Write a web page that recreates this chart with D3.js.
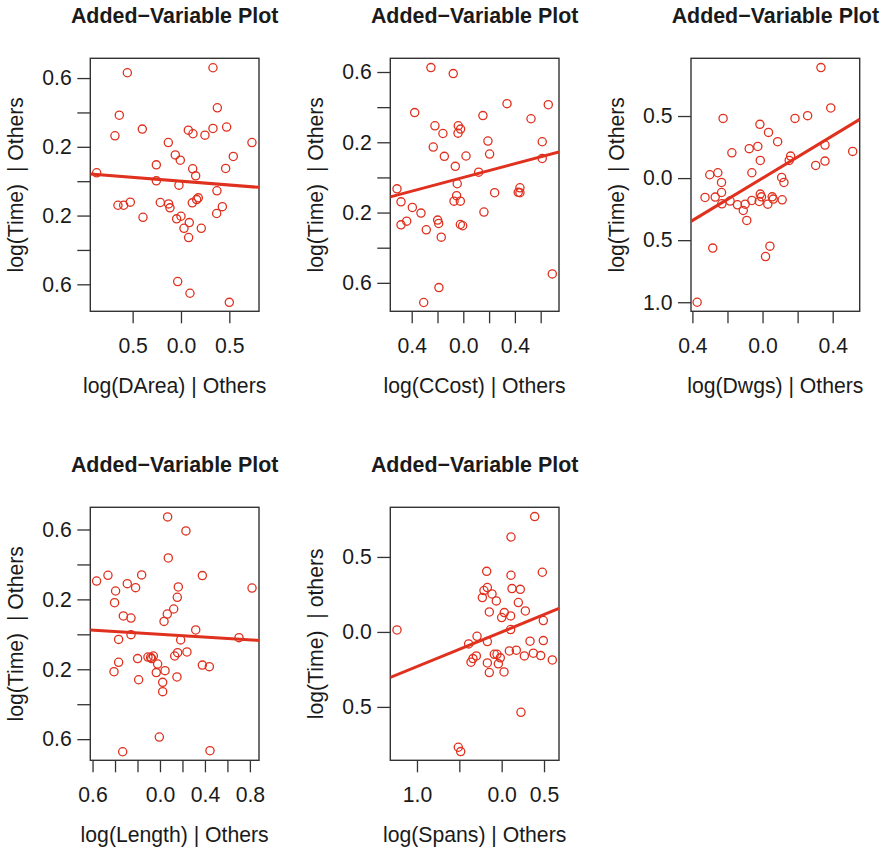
<!DOCTYPE html>
<html>
<head>
<meta charset="utf-8">
<script src="https://cdn.jsdelivr.net/npm/d3@7"></script>
<style>
  body { margin: 0; background: #fff; }
  svg { display: block; }
  text { font-family: "Liberation Sans", Arial, Helvetica, sans-serif; fill: #1a1a1a; }
</style>
</head>
<body>
<svg id="chart" width="884" height="848"></svg>
<script>
// ---------------- DATA ----------------
const titleText = "Added\u2212Variable Plot";

const xLabels = ["log(DArea) | Others", "log(CCost) | Others", "log(Dwgs) | Others", "log(Length) | Others", "log(Spans) | Others"];
const yLabels = ["log(Time)  | Others", "log(Time)  | Others", "log(Time)  | Others", "log(Time)  | Others", "log(Time)  | others"];

// Panel 1: DArea
const p1x = [-0.555,0.331,0.376,-0.638,-0.400,-0.683,0.076,0.124,0.248,0.331,0.472,0.734,-0.131,-0.059,-0.007,0.541,-0.255,0.121,0.462,-0.872,0.152,-0.255,-0.021,0.372,-0.652,-0.593,-0.524,-0.214,-0.128,-0.114,0.117,0.162,0.179,0.428,0.369,-0.393,-0.045,0.000,0.086,0.031,0.210,0.079,-0.034,0.093,0.500];
const p1y = [0.631,0.660,0.427,0.384,0.303,0.264,0.297,0.276,0.268,0.307,0.315,0.225,0.225,0.153,0.122,0.144,0.095,0.072,0.074,0.049,0.031,0.002,-0.023,-0.056,-0.140,-0.140,-0.122,-0.124,-0.132,-0.155,-0.126,-0.107,-0.097,-0.148,-0.188,-0.210,-0.219,-0.204,-0.241,-0.274,-0.274,-0.328,-0.584,-0.652,-0.705];

// Panel 2: CCost
const p2x = [-0.251,-0.078,0.339,0.659,-0.377,0.152,0.525,-0.220,-0.039,-0.021,-0.041,-0.158,0.191,0.612,-0.233,0.204,-0.147,0.021,0.612,-0.062,0.119,-0.514,-0.047,-0.483,-0.052,-0.072,-0.023,0.243,0.439,0.426,0.439,-0.395,-0.328,0.160,-0.483,-0.439,-0.199,-0.191,-0.287,-0.023,-0.005,-0.171,0.690,-0.189,-0.307];
const p2y = [0.625,0.591,0.420,0.414,0.369,0.352,0.334,0.294,0.294,0.275,0.252,0.250,0.207,0.203,0.173,0.133,0.120,0.122,0.108,0.063,0.030,-0.065,-0.036,-0.139,-0.104,-0.135,-0.135,-0.087,-0.059,-0.085,-0.087,-0.171,-0.203,-0.197,-0.270,-0.249,-0.243,-0.262,-0.298,-0.268,-0.275,-0.340,-0.549,-0.627,-0.712];

// Panel 3: Dwgs
const p3x = [0.333,0.389,0.257,0.185,-0.225,-0.015,0.034,0.086,0.356,0.514,-0.175,-0.076,-0.027,-0.013,0.160,0.152,0.356,0.303,-0.301,-0.255,-0.061,-0.234,0.109,0.122,-0.234,-0.328,-0.270,-0.232,-0.185,-0.143,-0.099,-0.110,-0.061,-0.013,-0.006,-0.019,0.030,0.055,0.061,0.112,-0.090,-0.284,0.042,0.017,-0.373];
const p3y = [0.890,0.565,0.503,0.481,0.481,0.433,0.368,0.293,0.266,0.215,0.204,0.237,0.255,0.142,0.177,0.142,0.137,0.102,0.027,0.043,0.043,-0.035,0.005,-0.035,-0.116,-0.156,-0.153,-0.207,-0.185,-0.215,-0.210,-0.261,-0.180,-0.129,-0.151,-0.188,-0.210,-0.151,-0.169,-0.175,-0.341,-0.564,-0.548,-0.632,-1.000];

// Panel 4: Length
const p4x = [0.068,0.231,0.074,-0.463,-0.163,0.377,-0.564,-0.291,-0.217,-0.395,0.163,0.819,0.154,-0.404,0.122,0.065,-0.326,-0.258,0.036,0.318,-0.258,-0.368,0.184,0.703,0.157,0.240,0.131,-0.199,-0.107,-0.083,-0.059,-0.074,-0.021,-0.368,-0.409,-0.033,0.045,0.377,0.439,-0.190,0.151,0.024,0.024,-0.006,-0.332,0.445];
const p4y = [0.672,0.592,0.437,0.338,0.340,0.336,0.305,0.290,0.267,0.248,0.271,0.265,0.212,0.181,0.145,0.116,0.105,0.093,0.074,0.025,-0.002,-0.029,-0.032,-0.019,-0.105,-0.101,-0.124,-0.139,-0.130,-0.132,-0.124,-0.139,-0.170,-0.160,-0.214,-0.219,-0.208,-0.176,-0.185,-0.260,-0.244,-0.275,-0.328,-0.588,-0.672,-0.666];

// Panel 5: Spans
const p5x = [0.390,0.110,-0.177,0.480,0.110,-0.169,-0.209,0.122,0.220,-0.114,-0.228,-0.063,0.197,-0.146,0.031,0.000,0.106,0.280,0.492,-1.236,0.106,-0.291,-0.390,-0.169,0.335,0.492,0.091,0.173,-0.299,-0.339,-0.362,-0.087,-0.055,-0.016,-0.039,-0.169,0.268,0.374,0.461,0.598,-0.146,0.028,0.228,-0.512,-0.484];
const p5y = [0.769,0.633,0.404,0.398,0.378,0.296,0.276,0.289,0.284,0.253,0.229,0.207,0.196,0.133,0.129,0.096,0.107,0.140,0.076,0.013,0.016,-0.029,-0.080,-0.064,-0.062,-0.058,-0.127,-0.122,-0.160,-0.178,-0.202,-0.149,-0.149,-0.173,-0.213,-0.207,-0.160,-0.142,-0.158,-0.187,-0.271,-0.267,-0.536,-0.769,-0.798];

// Fitted lines (slope, intercept)
const slopes = [-0.0445, 0.196, 0.854, -0.0394, 0.231];
const intercepts = [0.0, 0.0, 0.0, 0.0, 0.0];

// Axis domains
const xDomains = [[-0.938, 0.807], [-0.566, 0.742], [-0.408, 0.554], [-0.620, 0.881], [-1.315, 0.677]];
const yDomains = [[-0.757, 0.715], [-0.762, 0.678], [-1.073, 0.965], [-0.721, 0.727], [-0.856, 0.831]];

// Tick values and the labels as printed (R drops minus signs in this figure)
const xTickVals = [[-0.5, 0, 0.5], [-0.4, -0.2, 0, 0.2, 0.4, 0.6], [-0.4, -0.2, 0, 0.2, 0.4], [-0.6, -0.4, -0.2, 0, 0.2, 0.4, 0.6, 0.8], [-1, -0.5, 0, 0.5]];
const xTickText = [["0.5", "0.0", "0.5"], ["0.4", "", "0.0", "", "0.4", ""], ["0.4", "", "0.0", "", "0.4"], ["0.6", "", "", "0.0", "", "0.4", "", "0.8"], ["1.0", "", "0.0", "0.5"]];
const yTickVals = [[0.6, 0.4, 0.2, 0, -0.2, -0.4, -0.6], [0.6, 0.4, 0.2, 0, -0.2, -0.4, -0.6], [0.5, 0, -0.5, -1.0], [0.6, 0.4, 0.2, 0, -0.2, -0.4, -0.6], [0.5, 0, -0.5]];
const yTickText = [["0.6", "", "0.2", "", "0.2", "", "0.6"], ["0.6", "", "0.2", "", "0.2", "", "0.6"], ["0.5", "0.0", "0.5", "1.0"], ["0.6", "", "0.2", "", "0.2", "", "0.6"], ["0.5", "0.0", "0.5"]];

// ---------------- DRAW ----------------
const xs = [p1x, p2x, p3x, p4x, p5x];
const ys = [p1y, p2y, p3y, p4y, p5y];

const RED = "#e0301e";
const FS = 21.2;
const panelW = 168.7, panelH = 253;
const lefts = [90.3, 390.3, 691, 90.3, 390.3];
const tops = [58.3, 58.3, 58.3, 507.3, 507.3];

const svg = d3.select("#chart");

for (let i = 0; i < 5; i++) {
  const L = lefts[i], T = tops[i];
  const x = d3.scaleLinear().domain(xDomains[i]).range([L, L + panelW]);
  const y = d3.scaleLinear().domain(yDomains[i]).range([T + panelH, T]);
  const g = svg.append("g");

  const clipId = "clip" + i;
  svg.append("clipPath").attr("id", clipId)
    .append("rect").attr("x", L).attr("y", T).attr("width", panelW).attr("height", panelH);

  // axes
  const xAxis = d3.axisBottom(x).tickValues(xTickVals[i])
    .tickFormat((d, k) => xTickText[i][k]).tickSize(12).tickPadding(15);
  const gx = g.append("g").attr("transform", `translate(0,${T + panelH})`).call(xAxis);
  gx.select(".domain").remove();
  gx.selectAll("line").attr("stroke", "#333").attr("stroke-width", 1.3);
  gx.selectAll("text").attr("font-size", FS).attr("fill", "#1a1a1a").attr("dy", "0.71em");

  const yAxis = d3.axisLeft(y).tickValues(yTickVals[i])
    .tickFormat((d, k) => yTickText[i][k]).tickSize(13).tickPadding(5.5);
  const gy = g.append("g").attr("transform", `translate(${L},0)`).call(yAxis);
  gy.select(".domain").remove();
  gy.selectAll("line").attr("stroke", "#333").attr("stroke-width", 1.3);
  gy.selectAll("text").attr("font-size", FS).attr("fill", "#1a1a1a");

  // box
  g.append("rect").attr("x", L).attr("y", T).attr("width", panelW).attr("height", panelH)
    .attr("fill", "none").attr("stroke", "#333").attr("stroke-width", 1.4);

  // points
  g.append("g").attr("clip-path", `url(#${clipId})`)
    .selectAll("circle").data(d3.range(xs[i].length)).join("circle")
    .attr("cx", k => x(xs[i][k])).attr("cy", k => y(ys[i][k])).attr("r", 4.1)
    .attr("fill", "none").attr("stroke", RED).attr("stroke-width", 1.3);

  // fitted line
  const [x0, x1] = xDomains[i];
  g.append("line").attr("clip-path", `url(#${clipId})`)
    .attr("x1", x(x0)).attr("y1", y(slopes[i] * x0 + intercepts[i]))
    .attr("x2", x(x1)).attr("y2", y(slopes[i] * x1 + intercepts[i]))
    .attr("stroke", RED).attr("stroke-width", 3);

  const cx = L + panelW / 2, cy = T + panelH / 2;
  // title
  g.append("text").attr("x", cx).attr("y", T - 35.6).attr("text-anchor", "middle")
    .attr("font-size", 21.4).attr("font-weight", "bold").text(titleText);
  // x label
  g.append("text").attr("x", cx).attr("y", T + panelH + 82).attr("text-anchor", "middle")
    .attr("font-size", FS).text(xLabels[i]);
  // y label
  g.append("text").attr("transform", `translate(${L - 67},${cy}) rotate(-90)`)
    .attr("text-anchor", "middle").attr("font-size", FS).style("white-space", "pre")
    .text(yLabels[i]);
}
</script>
</body>
</html>
